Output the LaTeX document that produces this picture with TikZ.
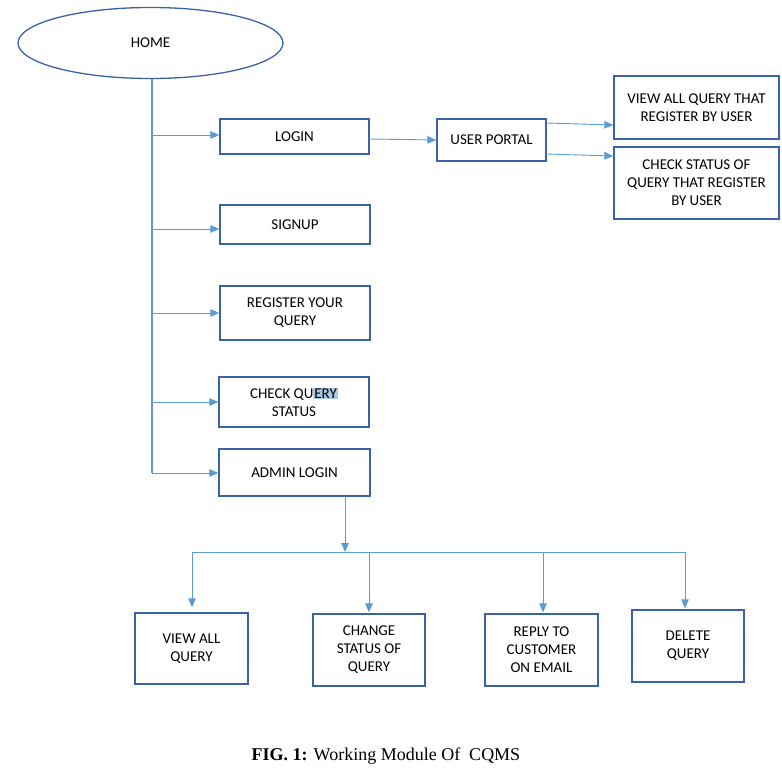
\documentclass[tikz,border=0pt]{standalone}
\usepackage{fontspec}
\setmainfont{Carlito}
\newfontfamily\capfont{Liberation Serif}
\usetikzlibrary{arrows.meta,shapes.geometric}

\definecolor{boxblue}{HTML}{3A62A8}
\definecolor{linkblue}{HTML}{5B9BD5}
\definecolor{hlblue}{HTML}{A9C6E4}

\tikzset{
  box/.style={draw=boxblue, line width=1.3pt, inner sep=0pt, align=center,
    font=\fontsize{15}{18}\selectfont},
  link/.style={draw=linkblue, line width=0.9pt,
    -{Triangle[length=9pt,width=7.5pt]}},
  plain/.style={draw=linkblue, line width=0.9pt},
  trunk/.style={draw=linkblue, line width=2pt},
}

\begin{document}
\begin{tikzpicture}[x=1pt,y=-1pt]
\useasboundingbox (0,0) rectangle (782,775);

% start page
\node[draw=boxblue, line width=1.3pt, ellipse, minimum width=265pt, minimum height=71pt,
  inner sep=0pt, font=\fontsize{15}{18}\selectfont] (home) at (150.5,43) {HOME};

% pages reachable from home
\node[box, minimum width=149pt, minimum height=35pt] (login) at (294.5,136.5) {LOGIN};
\node[box, minimum width=150pt, minimum height=39pt] (signup) at (295,224.5) {SIGNUP};
\node[box, minimum width=150pt, minimum height=54pt] (register) at (295,313) {REGISTER YOUR\\QUERY};
\node[box, minimum width=150pt, minimum height=50pt] (check) at (294,402)
  {CHECK QU{\fboxsep=1pt\colorbox{hlblue}{ERY}}\\STATUS};
\node[box, minimum width=151pt, minimum height=47pt] (admin) at (294.5,472.5) {ADMIN LOGIN};

% user side
\node[box, minimum width=109pt, minimum height=42pt] (portal) at (491.5,140) {USER PORTAL};
\node[box, minimum width=165pt, minimum height=63pt] (viewuser) at (696.5,107.5)
  {VIEW ALL QUERY THAT\\REGISTER BY USER};
\node[box, minimum width=165pt, minimum height=72pt] (checkuser) at (696.5,183)
  {CHECK STATUS OF\\QUERY THAT REGISTER\\BY USER};

% admin side
\node[box, minimum width=113pt, minimum height=71pt] (viewall) at (191.5,648.5) {VIEW ALL\\QUERY};
\node[box, minimum width=112pt, minimum height=72pt] (change) at (369,650) {CHANGE\\STATUS OF\\QUERY};
\node[box, minimum width=113pt, minimum height=72pt] (reply) at (541.5,650) {REPLY TO\\CUSTOMER\\ON EMAIL};
\node[box, minimum width=112pt, minimum height=72pt] (delete) at (688,646) {DELETE\\QUERY};

% trunk from home
\coordinate (t1) at (152,135);
\coordinate (t2) at (152,229);
\coordinate (t3) at (152,313);
\coordinate (t4) at (152,402);
\coordinate (t5) at (152,473);
\draw[trunk] (home.south -| t1) -- (t5);
\draw[link] (t1) -- (t1 -| login.west);
\draw[link] (t2) -- (t2 -| signup.west);
\draw[link] (t3) -- (t3 -| register.west);
\draw[link] (t4) -- (t4 -| check.west);
\draw[link] (t5) -- (t5 -| admin.west);

% login to portal and its pages
\coordinate (p0) at (369,139);
\draw[link] (p0) -- (portal.west);
\coordinate (p1) at (546,123);
\coordinate (p2) at (546,154);
\draw[link] (p1) -- (viewuser.west |- 0,125);
\draw[link] (p2) -- (checkuser.west |- 0,156);

% admin fan-out
\coordinate (a0) at (345,496);
\coordinate (bar) at (345,552);
\coordinate (barL) at (192,552);
\coordinate (barR) at (685,552);
\coordinate (b2) at (369,552);
\coordinate (b3) at (543,552);
\draw[link] (a0) -- (bar);
\draw[plain] (barL) -- (barR);
\draw[link, shorten >=5pt] (barL) -- (barL |- viewall.north);
\draw[link, shorten >=1pt] (b2) -- (b2 |- change.north);
\draw[link, shorten >=1pt] (b3) -- (b3 |- reply.north);
\draw[link, shorten >=1pt] (barR) -- (barR |- delete.north);

% caption
\node[font=\capfont\fontsize{18}{21}\selectfont] (cap) at (386,756)
  {\textbf{FIG. 1:} Working Module Of\ \ CQMS};
\end{tikzpicture}
\end{document}
